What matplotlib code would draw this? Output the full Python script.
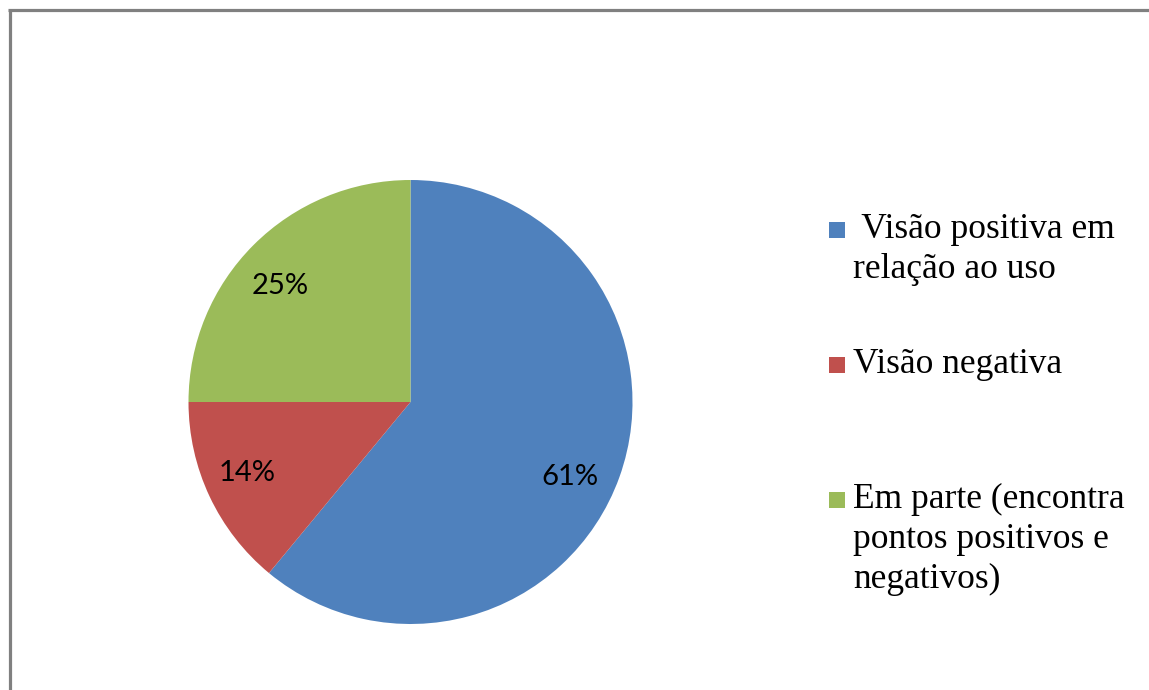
import matplotlib
matplotlib.use("Agg")
import matplotlib.pyplot as plt
from matplotlib.patches import Rectangle
from matplotlib.lines import Line2D

labels = [" Visão positiva em\nrelação ao uso", "Visão negativa",
          "Em parte (encontra\npontos positivos e\nnegativos)"]
values = [61, 14, 25]
colors = ["#4F81BD", "#C0504D", "#9BBB59"]
# small label nudges (in pixels, right/down) mimicking Excel's best-fit placement
label_nudges = [(-6, 16), (-5, -4), (-6, 8)]

W, H = 1149, 690
fig = plt.figure(figsize=(W / 100, H / 100), dpi=100)
fig.patch.set_facecolor("white")

def fx(x):
    return x / W

def fy(y):
    return 1 - y / H

# border (top and left visible)
fig.add_artist(Line2D([fx(9.5), fx(9.5)], [fy(9.5), 0], color="#808080", lw=2.3,
                      transform=fig.transFigure, solid_capstyle="butt"))
fig.add_artist(Line2D([fx(8), 1], [fy(9.5), fy(9.5)], color="#808080", lw=2.3,
                      transform=fig.transFigure, solid_capstyle="butt"))

cx, cy, r = 410.5, 402, 222
ax = fig.add_axes([fx(cx - r), fy(cy + r), 2 * r / W, 2 * r / H])
wedges, texts, autotexts = ax.pie(values, colors=colors, startangle=90, counterclock=False,
                                  autopct="%1.0f%%", pctdistance=0.79,
                                  wedgeprops=dict(linewidth=0),
                                  textprops=dict(fontsize=21, family="Lato", color="#000000"))
ax.set_xlim(-1, 1)
ax.set_ylim(-1, 1)
ax.set_aspect("equal")
ax.axis("off")
for t, (dx, dy) in zip(autotexts, label_nudges):
    x, y = t.get_position()
    t.set_position((x + dx / r, y - dy / r))

# legend drawn manually
legend_y = [238, 373, 508]
line_step = 40
for lab, col, yb in zip(labels, colors, legend_y):
    fig.add_artist(Rectangle((fx(829), fy(yb)), 16 / W, 16 / H, facecolor=col,
                             edgecolor="none", transform=fig.transFigure))
    for i, line in enumerate(lab.split("\n")):
        fig.text(fx(853), fy(yb + i * line_step), line, fontsize=25.5,
                 family="Liberation Serif", va="baseline", ha="left", color="#000000")

fig.savefig("out.png", dpi=100, facecolor="white")
